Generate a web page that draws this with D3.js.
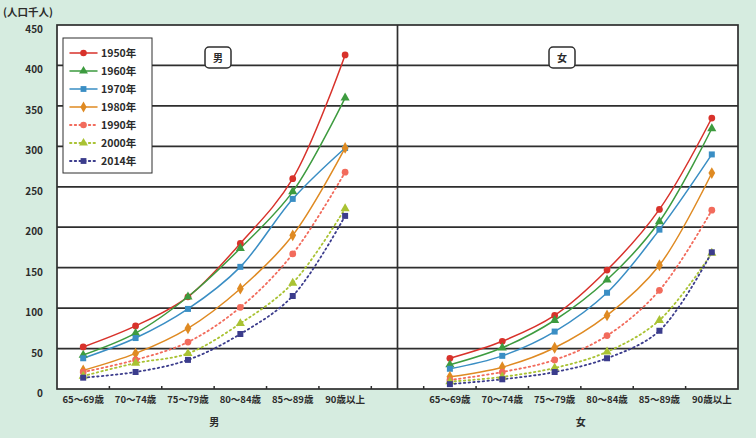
<!DOCTYPE html>
<html>
<head>
<meta charset="utf-8">
<script src="https://cdn.jsdelivr.net/npm/d3@7"></script>
<style>
  body { margin: 0; background: #d6ece0; }
  svg text { font-family: "Noto Sans CJK JP", sans-serif; font-weight: 700; fill: #2b2b2b; }
</style>
</head>
<body>
<div id="chart"></div>
<script>
// age groups (same for both panels)
const ageGroups = ["65～69歳", "70～74歳", "75～79歳", "80～84歳", "85～89歳", "90歳以上"];
const years = ["1950年", "1960年", "1970年", "1980年", "1990年", "2000年", "2014年"];
const yTicks = [0, 50, 100, 150, 200, 250, 300, 350, 400, 450];

// 男 (千人)
const male1950 = [52, 78, 114, 180, 260, 413];
const male1960 = [42, 69, 114, 174, 244, 360];
const male1970 = [38, 63, 99, 151, 235, 298];
const male1980 = [23, 44, 75, 124, 190, 298];
const male1990 = [21, 36, 58, 101, 167, 268];
const male2000 = [16, 32, 44, 81, 131, 223];
const male2014 = [14, 21, 36, 68, 115, 214];

// 女 (千人)
const female1950 = [38, 59, 91, 147, 222, 335];
const female1960 = [30, 51, 85, 135, 207, 322];
const female1970 = [25, 41, 71, 119, 197, 290];
const female1980 = [15, 27, 51, 91, 153, 267];
const female1990 = [11, 21, 36, 66, 122, 221];
const female2000 = [9, 15, 26, 46, 85, 168];
const female2014 = [6, 12, 21, 38, 72, 169];

const maleSeries = [male1950, male1960, male1970, male1980, male1990, male2000, male2014];
const femaleSeries = [female1950, female1960, female1970, female1980, female1990, female2000, female2014];

const colors = ["#d8322b", "#3d9b3f", "#3a8ec4", "#df8a22", "#f26b5c", "#a9c233", "#3b3c8c"];
const shapes = [d3.symbolCircle, d3.symbolTriangle, d3.symbolSquare, d3.symbolDiamond,
                d3.symbolCircle, d3.symbolTriangle, d3.symbolSquare];
const dotted = [false, false, false, false, true, true, true];

const width = 756, height = 438;
const plotLeft = 57, plotRight = 738, plotTop = 25, plotBottom = 389;

const svg = d3.select("#chart").append("svg")
  .attr("width", width)
  .attr("height", height);

// 13 slots: 6 male, 1 gap (divider), 6 female
const mKeys = ageGroups.map((d, i) => "m" + i);
const fKeys = ageGroups.map((d, i) => "f" + i);
const keys = mKeys.concat(["gap"], fKeys);

const x = d3.scaleBand().domain(keys).range([plotLeft, plotRight]);
const y = d3.scaleLinear().domain([0, 450]).range([plotBottom, plotTop]);
const cx = k => x(k) + x.bandwidth() / 2;

// plot background
svg.append("rect")
  .attr("x", plotLeft).attr("y", plotTop)
  .attr("width", plotRight - plotLeft).attr("height", plotBottom - plotTop)
  .attr("fill", "#fff");

// horizontal grid
svg.append("g")
  .selectAll("line")
  .data(yTicks.slice(1, -1))
  .join("line")
  .attr("x1", plotLeft).attr("x2", plotRight)
  .attr("y1", d => y(d)).attr("y2", d => y(d))
  .attr("stroke", "#2e2e2e")
  .attr("stroke-width", 1.7);

// divider between panels
svg.append("line")
  .attr("x1", cx("gap")).attr("x2", cx("gap"))
  .attr("y1", plotTop).attr("y2", plotBottom)
  .attr("stroke", "#2e2e2e")
  .attr("stroke-width", 1.7);

// frame
svg.append("rect")
  .attr("x", plotLeft).attr("y", plotTop)
  .attr("width", plotRight - plotLeft).attr("height", plotBottom - plotTop)
  .attr("fill", "none")
  .attr("stroke", "#2e2e2e")
  .attr("stroke-width", 1.7);

// y axis labels
const yAxis = svg.append("g")
  .attr("transform", `translate(${plotLeft},0)`)
  .call(d3.axisLeft(y).tickValues(yTicks).tickSize(0).tickPadding(14));
yAxis.select(".domain").remove();
yAxis.selectAll("text")
  .attr("dy", "0.75em")
  .style("font-size", "10px");

// small ticks on the x baseline, between categories
svg.append("g")
  .selectAll("line")
  .data(keys.slice(1))
  .join("line")
  .attr("x1", d => x(d)).attr("x2", d => x(d))
  .attr("y1", plotBottom).attr("y2", plotBottom - 3)
  .attr("stroke", "#2e2e2e")
  .attr("stroke-width", 1.5);

// x category labels
const xLabels = svg.append("g");
[mKeys, fKeys].forEach(ks => {
  xLabels.selectAll(null)
    .data(ks)
    .join("text")
    .attr("x", d => cx(d))
    .attr("y", 403)
    .attr("text-anchor", "middle")
    .style("font-size", "9.5px")
    .text((d, i) => ageGroups[i]);
});

// 男 / 女 under the axis
const panelMid = ks => (x(ks[0]) + x(ks[ks.length - 1]) + x.bandwidth()) / 2;
svg.append("text").attr("x", panelMid(mKeys)).attr("y", 426)
  .attr("text-anchor", "middle").style("font-size", "10px").text("男");
svg.append("text").attr("x", panelMid(fKeys)).attr("y", 426)
  .attr("text-anchor", "middle").style("font-size", "10px").text("女");

// unit label
svg.append("text")
  .attr("x", 3).attr("y", 16)
  .style("font-size", "10.5px")
  .text("(人口千人)");

// panel title boxes
[["男", 218], ["女", 562]].forEach(([t, px]) => {
  svg.append("rect")
    .attr("x", px - 13).attr("y", 47)
    .attr("width", 26).attr("height", 21)
    .attr("rx", 4)
    .attr("fill", "#fff")
    .attr("stroke", "#2e2e2e")
    .attr("stroke-width", 1.5);
  svg.append("text")
    .attr("x", px).attr("y", 62)
    .attr("text-anchor", "middle")
    .style("font-size", "10px")
    .text(t);
});

// series
const line = d3.line()
  .x(d => cx(d.k))
  .y(d => y(d.v))
  .curve(d3.curveCatmullRom.alpha(0.5));

function drawPanel(series, ks) {
  const g = svg.append("g");
  series.forEach((vals, s) => {
    const pts = vals.map((v, i) => ({ k: ks[i], v: v }));
    g.append("path")
      .datum(pts)
      .attr("d", line)
      .attr("fill", "none")
      .attr("stroke", colors[s])
      .attr("stroke-width", dotted[s] ? 1.8 : 1.5)
      .attr("stroke-linecap", "round")
      .attr("stroke-dasharray", dotted[s] ? "1.5,3.2" : null);
  });
  series.forEach((vals, s) => {
    g.selectAll(null)
      .data(vals.map((v, i) => ({ k: ks[i], v: v })))
      .join("path")
      .attr("transform", d => `translate(${cx(d.k)},${y(d.v)})`)
      .attr("d", d3.symbol().type(shapes[s]).size(shapes[s] === d3.symbolDiamond ? 40 : 36))
      .attr("fill", colors[s]);
  });
}
drawPanel(maleSeries, mKeys);
drawPanel(femaleSeries, fKeys);

// legend
const legend = svg.append("g");
legend.append("rect")
  .attr("x", 63).attr("y", 38)
  .attr("width", 89).attr("height", 135)
  .attr("fill", "#fff")
  .attr("stroke", "#2e2e2e")
  .attr("stroke-width", 1);
const item = legend.selectAll("g.item")
  .data(years)
  .join("g")
  .attr("class", "item")
  .attr("transform", (d, i) => `translate(0,${53 + i * 18})`);
item.append("line")
  .attr("x1", 70).attr("x2", 97)
  .attr("stroke", (d, i) => colors[i])
  .attr("stroke-width", (d, i) => dotted[i] ? 1.8 : 1.5)
  .attr("stroke-linecap", "round")
  .attr("stroke-dasharray", (d, i) => dotted[i] ? "1.5,3.2" : null);
item.append("path")
  .attr("transform", "translate(83.5,0)")
  .attr("d", (d, i) => d3.symbol().type(shapes[i]).size(34)())
  .attr("fill", (d, i) => colors[i]);
item.append("text")
  .attr("x", 101).attr("dy", "0.35em")
  .style("font-size", "10.5px")
  .text(d => d);
</script>
</body>
</html>
